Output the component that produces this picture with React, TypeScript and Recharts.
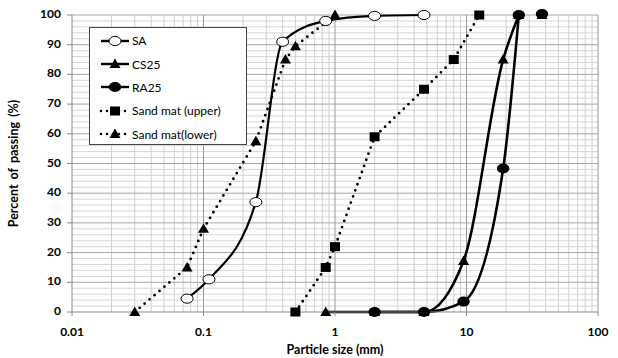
import React from 'react';
import { ComposedChart, Line, XAxis, YAxis, ReferenceLine } from 'recharts';

// grain size distribution
const saSize = [0.075, 0.11, 0.25, 0.4, 0.85, 2, 4.75];
const saPassing = [4.5, 11, 37, 91, 98, 99.7, 100];

const cs25Size = [0.85, 2, 4.75, 9.5, 19, 25];
const cs25Passing = [0, 0, 0, 17.2, 85, 100];

const ra25Size = [2, 4.75, 9.5, 19, 25];
const ra25Passing = [0, 0, 3.5, 48.3, 100];

// the 37.5 mm points are markers only in the original
const tailSize = [37.5];
const tailPassing = [100];

const upperSize = [0.5, 0.85, 1, 2, 4.75, 8, 12.5];
const upperPassing = [0, 15, 22, 59, 75, 85, 100];

const lowerSize = [0.03, 0.075, 0.1, 0.25, 0.42, 0.5, 1];
const lowerPassing = [0, 15, 28, 57.5, 85, 89.5, 100];

const xTicks = [0.01, 0.1, 1, 10, 100];
const yTicks = [0, 10, 20, 30, 40, 50, 60, 70, 80, 90, 100];

const toPoints = (xs: number[], ys: number[]) => xs.map((x, i) => ({ x, y: ys[i] }));

const sa = toPoints(saSize, saPassing);
const cs25 = toPoints(cs25Size, cs25Passing);
const ra25 = toPoints(ra25Size, ra25Passing);
const tail = toPoints(tailSize, tailPassing);
const upper = toPoints(upperSize, upperPassing);
const lower = toPoints(lowerSize, lowerPassing);

// log grid: 2..9 in every decade
const minorX: number[] = [];
[0.01, 0.1, 1, 10].forEach(d => {
    for (let k = 2; k <= 9; k++) minorX.push(+(d * k).toPrecision(3));
});
const minorY: number[] = [];
for (let v = 2; v < 100; v += 2) if (v % 10 !== 0) minorY.push(v);

const FONT = 'Lato, "Open Sans", sans-serif';

type Shape = 'openCircle' | 'circle' | 'triangle' | 'square';

const drawMarker = (shape: Shape, cx: number, cy: number, key?: React.Key) => {
    if (shape === 'openCircle')
        return <ellipse key={key} cx={cx} cy={cy} rx={6} ry={4.6} fill="#fff" stroke="#000" strokeWidth={1} />;
    if (shape === 'circle') return <ellipse key={key} cx={cx} cy={cy} rx={6.2} ry={5} fill="#000" />;
    if (shape === 'square')
        return <rect key={key} x={cx - 5} y={cy - 4.5} width={10} height={9} fill="#000" />;
    return (
        <polygon
            key={key}
            points={`${cx},${cy - 5.5} ${cx - 5.5},${cy + 4} ${cx + 5.5},${cy + 4}`}
            fill="#000"
        />
    );
};

const dotOf = (shape: Shape) => (props: any) => {
    const { cx, cy, index } = props;
    if (cx == null || cy == null) return <g key={index} />;
    return drawMarker(shape, cx, cy, `${shape}-${index}`);
};

const tailDot = (props: any) => {
    const { cx, cy, index } = props;
    return (
        <g key={`tail-${index}`}>
            {drawMarker('triangle', cx, cy)}
            {drawMarker('circle', cx, cy - 1)}
        </g>
    );
};

const legendRows: { name: string; shape: Shape; dotted: boolean }[] = [
    { name: 'SA', shape: 'openCircle', dotted: false },
    { name: 'CS25', shape: 'triangle', dotted: false },
    { name: 'RA25', shape: 'circle', dotted: false },
    { name: 'Sand mat (upper)', shape: 'square', dotted: true },
    { name: 'Sand mat(lower)', shape: 'triangle', dotted: true },
];

const ChartLegend = () => (
    <div
        style={{
            position: 'absolute',
            left: 89,
            top: 27,
            width: 158,
            height: 118,
            border: '1px solid #444',
            background: '#fff',
            boxSizing: 'border-box',
            paddingTop: 1,
        }}
    >
        {legendRows.map(row => (
            <div key={row.name} style={{ height: 23.4, display: 'flex', alignItems: 'center' }}>
                <svg width={41} height={14} style={{ flex: 'none' }}>
                    <line
                        x1={11}
                        x2={39}
                        y1={7}
                        y2={7}
                        stroke="#000"
                        strokeWidth={row.dotted ? 2.6 : 2.4}
                        strokeDasharray={row.dotted ? '0 6' : undefined}
                        strokeLinecap={row.dotted ? 'round' : 'butt'}
                    />
                    {drawMarker(row.shape, 25, 7)}
                </svg>
                <span style={{ fontFamily: FONT, fontSize: 12, color: '#000', marginLeft: 1 }}>{row.name}</span>
            </div>
        ))}
    </div>
);

const XTick = (props: any) => {
    const { x, y, payload } = props;
    return (
        <text x={x} y={y + 15} textAnchor="middle" dominantBaseline="middle" fontFamily={FONT} fontWeight={700} fontSize={12} fill="#000">
            {payload.value}
        </text>
    );
};

const YTick = (props: any) => {
    const { x, y, payload } = props;
    return (
        <text x={x - 4} y={y} textAnchor="end" dominantBaseline="middle" fontFamily={FONT} fontWeight={700} fontSize={12} fill="#000">
            {payload.value}
        </text>
    );
};

export default function App() {
    return (
        <div style={{ position: 'absolute', left: 0, top: 0, width: 618, height: 358, background: '#fff' }}>
            <ComposedChart width={618} height={358} margin={{ top: 15, right: 20, bottom: 0, left: 0 }}>
                <XAxis
                    dataKey="x"
                    type="number"
                    scale="log"
                    domain={[0.01, 100]}
                    ticks={xTicks}
                    interval={0}
                    allowDataOverflow
                    height={46}
                    axisLine={{ stroke: '#888' }}
                    tickLine={{ stroke: '#888' }}
                    tickSize={4}
                    tick={<XTick />}
                    label={{
                        value: 'Particle size (mm)',
                        position: 'insideBottom',
                        offset: 4,
                        style: { fontFamily: FONT, fontWeight: 700, fontSize: 12.5, fill: '#000' },
                    }}
                />
                <YAxis
                    dataKey="y"
                    type="number"
                    domain={[0, 100]}
                    ticks={yTicks}
                    interval={0}
                    width={72}
                    axisLine={{ stroke: '#888' }}
                    tickLine={{ stroke: '#888' }}
                    tickSize={5}
                    tick={<YTick />}
                    label={{
                        value: 'Percent of passing (%)',
                        angle: -90,
                        position: 'insideLeft',
                        offset: 14,
                        style: {
                            fontFamily: FONT,
                            fontWeight: 700,
                            fontSize: 12.5,
                            fill: '#000',
                            textAnchor: 'middle',
                            wordSpacing: 2,
                        },
                    }}
                />
                {minorY.map(v => (
                    <ReferenceLine key={`my${v}`} y={v} stroke="#d6d6d6" strokeWidth={1} />
                ))}
                {minorX.map(v => (
                    <ReferenceLine key={`mx${v}`} x={v} stroke="#d0d0d0" strokeWidth={1} />
                ))}
                {yTicks.slice(1).map(v => (
                    <ReferenceLine key={`My${v}`} y={v} stroke="#a6a6a6" strokeWidth={1} />
                ))}
                {xTicks.slice(1).map(v => (
                    <ReferenceLine key={`Mx${v}`} x={v} stroke="#999" strokeWidth={1} />
                ))}

                <Line
                    data={lower}
                    dataKey="y"
                    type="linear"
                    stroke="#000"
                    strokeWidth={2.8}
                    strokeDasharray="0 6.5"
                    strokeLinecap="round"
                    dot={dotOf('triangle')}
                    isAnimationActive={false}
                />
                <Line
                    data={upper}
                    dataKey="y"
                    type="linear"
                    stroke="#000"
                    strokeWidth={2.8}
                    strokeDasharray="0 6.5"
                    strokeLinecap="round"
                    dot={dotOf('square')}
                    isAnimationActive={false}
                />
                <Line
                    data={sa}
                    dataKey="y"
                    type="monotone"
                    stroke="#000"
                    strokeWidth={2.2}
                    dot={dotOf('openCircle')}
                    isAnimationActive={false}
                />
                <Line
                    data={cs25}
                    dataKey="y"
                    type="monotone"
                    stroke="#000"
                    strokeWidth={2.6}
                    dot={dotOf('triangle')}
                    isAnimationActive={false}
                />
                <Line
                    data={ra25}
                    dataKey="y"
                    type="monotone"
                    stroke="#000"
                    strokeWidth={2.6}
                    dot={dotOf('circle')}
                    isAnimationActive={false}
                />
                <Line data={tail} dataKey="y" stroke="none" dot={tailDot} isAnimationActive={false} />
            </ComposedChart>
            <ChartLegend />
        </div>
    );
}
